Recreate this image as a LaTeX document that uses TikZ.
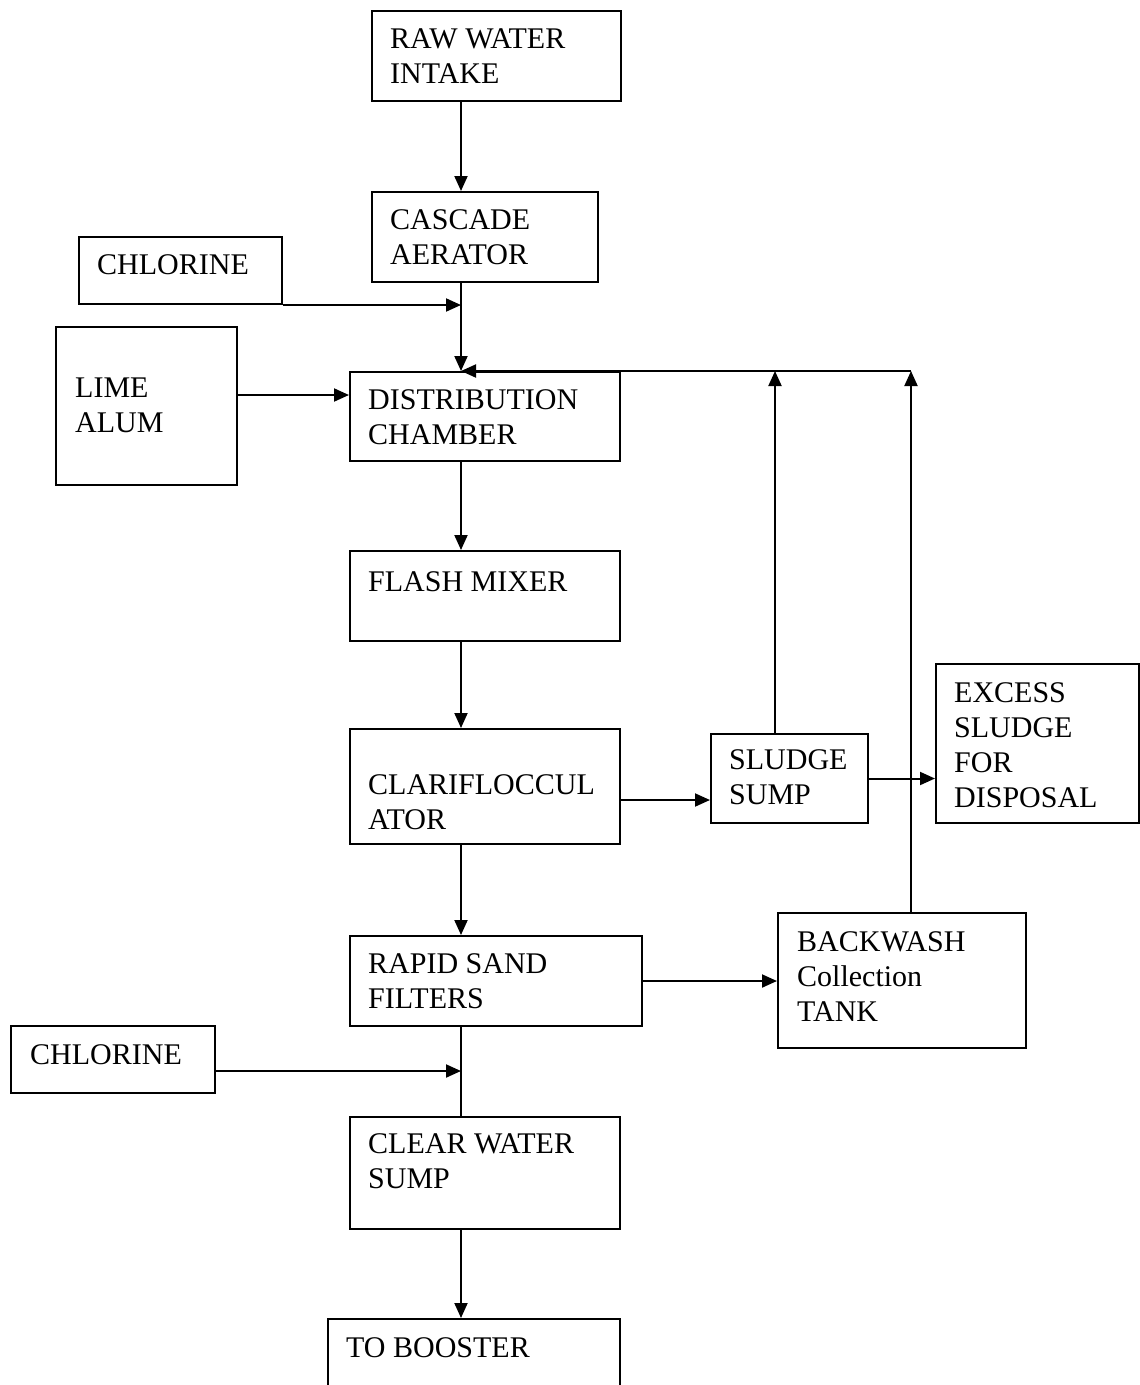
\documentclass[tikz,border=0pt]{standalone}
\usepackage{fontspec}
\setmainfont{Liberation Serif}
\usetikzlibrary{arrows.meta}
\begin{document}
\begin{tikzpicture}[x=1pt,y=-1pt,
  pbox/.style={draw, line width=2pt, anchor=north west, inner sep=0pt},
  txt/.style={anchor=north west, inner sep=0pt, align=left, font=\fontsize{30}{35}\selectfont},
  conn/.style={line width=2pt},
  arr/.style={line width=2pt, -{Triangle[length=15pt,width=13pt]}}]
\clip (0,0) rectangle (1140,1385);
\fill[white] (0,0) rectangle (1140,1385);
% boxes
\node[pbox, minimum width=249pt, minimum height=90pt] (raw) at (371,10) {};
\node[pbox, minimum width=226pt, minimum height=90pt] (cas) at (371,191) {};
\node[pbox, minimum width=203pt, minimum height=67pt] (chl1) at (78,236) {};
\node[pbox, minimum width=181pt, minimum height=158pt] (lime) at (55,326) {};
\node[pbox, minimum width=270pt, minimum height=89pt] (dist) at (349,371) {};
\node[pbox, minimum width=270pt, minimum height=90pt] (flash) at (349,550) {};
\node[pbox, minimum width=270pt, minimum height=115pt] (clari) at (349,728) {};
\node[pbox, minimum width=157pt, minimum height=89pt] (sludge) at (710,733) {};
\node[pbox, minimum width=203pt, minimum height=159pt] (excess) at (935,663) {};
\node[pbox, minimum width=292pt, minimum height=90pt] (rapid) at (349,935) {};
\node[pbox, minimum width=248pt, minimum height=135pt] (back) at (777,912) {};
\node[pbox, minimum width=204pt, minimum height=67pt] (chl2) at (10,1025) {};
\node[pbox, minimum width=270pt, minimum height=112pt] (clear) at (349,1116) {};
\node[pbox, minimum width=292pt, minimum height=120pt] (boost) at (327,1318) {};
% texts
\node[txt] (traw) at (390,28) {RAW WATER\\INTAKE};
\node[txt] (tcas) at (390,209) {CASCADE\\AERATOR};
\node[txt] (tchl1) at (97,254) {CHLORINE};
\node[txt] (tlime) at (75,378) {LIME\\ALUM};
\node[txt] (tdist) at (368,389) {DISTRIBUTION\\CHAMBER};
\node[txt] (tflash) at (368,571) {FLASH MIXER};
\node[txt] (tclari) at (368,774) {CLARIFLOCCUL\\ATOR};
\node[txt] (tsludge) at (729,749) {SLUDGE\\SUMP};
\node[txt] (texcess) at (954,682) {EXCESS\\SLUDGE\\FOR\\DISPOSAL};
\node[txt] (trapid) at (368,953) {RAPID SAND\\FILTERS};
\node[txt] (tback) at (797,931) {BACKWASH\\Collection\\TANK};
\node[txt] (tchl2) at (30,1044) {CHLORINE};
\node[txt] (tclear) at (368,1133) {CLEAR WATER\\SUMP};
\node[txt] (tboost) at (346,1337) {TO BOOSTER};
% helper coordinates
\coordinate (col) at (461,0);
\coordinate (fbA) at (775,371);
\coordinate (fbB) at (911,371);
\coordinate (yls) at (0,800);
\coordinate (ycl) at (0,1071);
% connectors
\draw[arr] (raw.south -| col) -- (cas.north -| col);
\draw[arr] (cas.south -| col) -- (dist.north -| col);
\draw[arr] (chl1.south east) -- (chl1.south east -| col);
\draw[arr] ([yshift=11pt]lime.east) -- ([yshift=11pt]lime.east -| dist.west);
\draw[arr] (fbB) -- (dist.north -| col);
\draw[arr] (fbA |- sludge.north) -- (fbA);
\draw[arr] (fbB |- back.north) -- (fbB);
\draw[arr] (dist.south -| col) -- (flash.north -| col);
\draw[arr] (flash.south -| col) -- (clari.north -| col);
\draw[arr] (clari.east |- yls) -- (sludge.west |- yls);
\draw[arr] (sludge.east) -- (sludge.east -| excess.west);
\draw[arr] (clari.south -| col) -- (rapid.north -| col);
\draw[arr] (rapid.east) -- (rapid.east -| back.west);
\draw[conn] (rapid.south -| col) -- (clear.north -| col);
\draw[arr] (chl2.east |- ycl) -- (col |- ycl);
\draw[arr] (clear.south -| col) -- (boost.north -| col);
\end{tikzpicture}
\end{document}
